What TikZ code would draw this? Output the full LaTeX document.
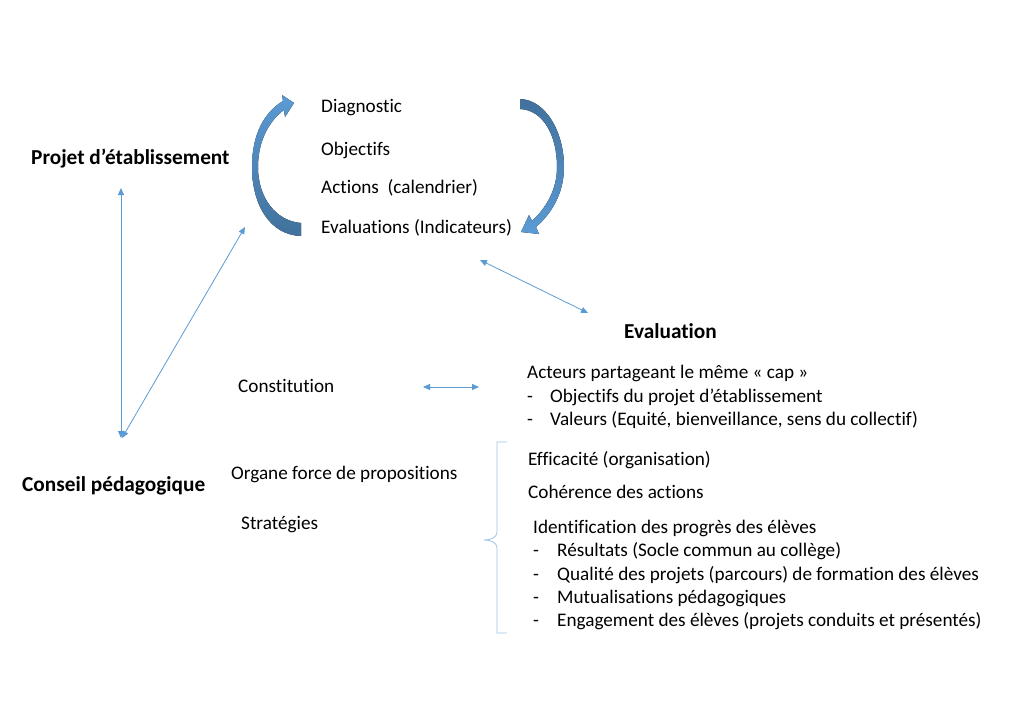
\documentclass[tikz,border=0pt]{standalone}
\usepackage{fontspec}
\setmainfont{Carlito}[Ligatures=NoCommon]
\usetikzlibrary{arrows.meta}
\definecolor{lineblue}{HTML}{5B9BD5}
\definecolor{darkblue}{HTML}{41719C}
\definecolor{braceblue}{HTML}{9DC3E6}
\begin{document}
\begin{tikzpicture}[x=1pt, y=-1pt]
                \useasboundingbox (0,0) rectangle (1018,709);
                \begin{scope}[
                        every node/.style={anchor=base west, inner sep=0pt,
                            font=\fontsize{19.2}{23}\selectfont},
                        every edge/.style={draw, lineblue, line width=0.8pt,
                            {Triangle[length=7pt,width=6pt]}-{Triangle[length=7pt,width=6pt]}}
                    ]

                    \node[font=\fontsize{21.3}{26}\selectfont\bfseries] (pe) at (31,164) {Projet d’établissement};
                    \node[font=\fontsize{21.3}{26}\selectfont\bfseries] (cp) at (22,491) {Conseil pédagogique};
                    \node[font=\fontsize{21.3}{26}\selectfont\bfseries] (ev) at (624,338) {Evaluation};

                    \node (diag) at (321,113) {Diagnostic};
                    \node (obj) at (321,155) {Objectifs};
                    \node (act) at (321,193) {Actions\ \ (calendrier)};
                    \node (evi) at (321,233) {Evaluations (Indicateurs)};

                    \node (const) at (238,392) {Constitution};
                    \node (org) at (231,479) {Organe force de propositions};
                    \node (strat) at (241,529) {Stratégies};

                    \node (cap) at (527,378) {Acteurs partageant le même «~cap~»};
                    \node (cap1) at (527,402) {\makebox[23pt][l]{-}Objectifs du projet d’établissement};
                    \node (cap2) at (527,425) {\makebox[23pt][l]{-}Valeurs (Equité, bienveillance, sens du collectif)};

                    \node (eff) at (528,465) {Efficacité (organisation)};
                    \node (coh) at (528,498) {Cohérence des actions};
                    \node (ide) at (533,533) {Identification des progrès des élèves};
                    \node (ide1) at (533,556) {\makebox[24pt][l]{-}Résultats (Socle commun au collège)};
                    \node (ide2) at (533,580) {\makebox[24pt][l]{-}Qualité des projets (parcours) de formation des élèves};
                    \node (ide3) at (533,603) {\makebox[24pt][l]{-}Mutualisations pédagogiques};
                    \node (ide4) at (533,626) {\makebox[24pt][l]{-}Engagement des élèves (projets conduits et présentés)};

                    \coordinate (pe-s) at (121,188);
                    \coordinate (cp-n) at (121,438);
                    \coordinate (cp-ne) at (122,438);
                    \coordinate (cy-sw) at (245,227);
                    \coordinate (cy-se) at (480,260);
                    \coordinate (ev-nw) at (588,313);
                    \coordinate (const-e) at (423,387);
                    \coordinate (cap-w) at (479,387);

                    \draw (pe-s) edge (cp-n);
                    \draw (cp-ne) edge (cy-sw);
                    \draw (cy-se) edge (ev-nw);
                    \draw (const-e) edge (cap-w);
                \end{scope}

                % curved arrows round the cycle
                \fill[top color=lineblue, bottom color=darkblue]
                    (301,236) .. controls (270,235) and (252,205) .. (252,167)
                    .. controls (252,133) and (265,112) .. (283,101)
                    -- (282,95) -- (294,103) -- (285,117) -- (284,110)
                    .. controls (270,120) and (258,140) .. (258,167)
                    .. controls (258,198) and (276,221) .. (301,223) -- cycle;
                \fill[top color=darkblue, bottom color=lineblue]
                    (520,99) .. controls (546,100) and (564,132) .. (564,167)
                    .. controls (564,195) and (550,215) .. (536,227)
                    -- (539,234) -- (521,232) -- (529,215) -- (532,221)
                    .. controls (546,208) and (557,190) .. (557,167)
                    .. controls (557,135) and (543,110) .. (520,109) -- cycle;

                % brace
                \draw[braceblue, line width=0.8pt] (507,442) -- (497,442) -- (497,532)
                    .. controls (497,538) and (490,540) .. (484,540)
                    .. controls (490,540) and (497,542) .. (497,548)
                    -- (497,633) -- (507,633);
            \end{tikzpicture}
\end{document}
